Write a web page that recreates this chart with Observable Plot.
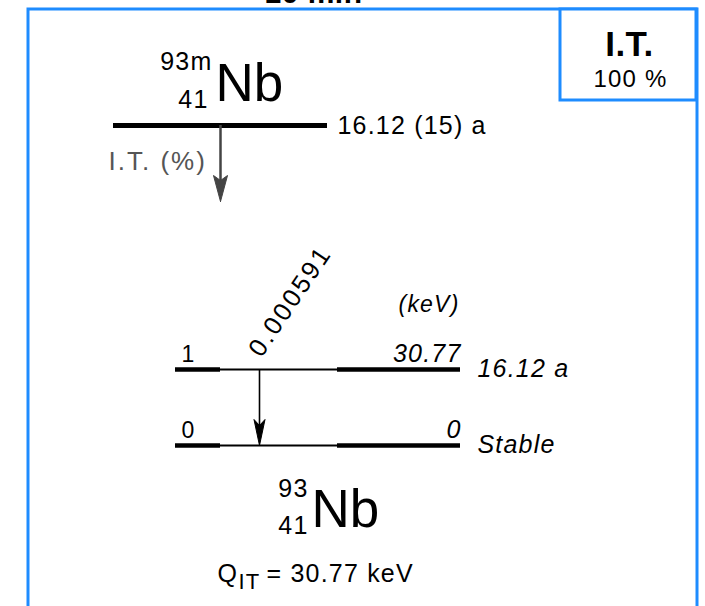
<!DOCTYPE html>
<html>
<head>
<meta charset="utf-8">
<script src="https://cdn.jsdelivr.net/npm/d3@7"></script>
<script src="https://cdn.jsdelivr.net/npm/@observablehq/plot@0.6"></script>
<style>
  html, body { margin: 0; padding: 0; background: #fff; }
  #chart svg { display: block; }
  #chart g[font-size="53"] { letter-spacing: 0; }
  #chart g[font-weight="bold"] { letter-spacing: 0.5px; }
  #chart g[fill="#555"] { letter-spacing: 2px; }
  #chart g[font-size="25.5"] { letter-spacing: 2.6px; }
</style>
</head>
<body>
<div id="chart"></div>
<script>
// ---- data ----
const headerText = ["10 min"];
const parentNuclide = ["93m", "41", "Nb"];      // A, Z, symbol
const parentHalfLife = ["16.12 (15) a"];
const decayModes = ["I.T."];
const decayPercents = ["100 %"];
const decayModeLabels = ["I.T. (%)"];
const levelIndex = [1, 0];
const levelEnergy = [30.77, 0];                  // keV
const levelEnergyLabel = ["30.77", "0"];
const levelHalfLife = ["16.12 a", "Stable"];
const gammaFrom = [1];
const gammaTo = [0];
const gammaIntensity = ["0.000591"];
const daughterNuclide = ["93", "41", "Nb"];
const qLabel = ["Q", "IT", "= 30.77 keV"];
const energyUnit = ["(keV)"];

// ---- layout ----
const W = 705, H = 606;
const blue = "#1E8CFF";
const font = "'Liberation Sans', Arial, Helvetica, sans-serif";
const eY = d3.scaleLinear().domain([0, 30.77]).range([445, 369]); // energy -> px
const lv = { x1: 175, xa: 220, xb: 337, x2: 460 };

const levels = levelIndex.map((idx, i) => ({
  idx, e: levelEnergy[i], eLabel: levelEnergyLabel[i], hl: levelHalfLife[i], y: eY(levelEnergy[i])
}));
const byIdx = Object.fromEntries(levels.map(d => [d.idx, d]));
const gammas = gammaFrom.map((f, i) => ({
  x: 259, y1: byIdx[f].y, y2: byIdx[gammaTo[i]].y, label: gammaIntensity[i]
}));
// filled arrowheads (polygons) derived from the transition ends
const heads = [];
gammas.forEach((g, i) => {
  const tip = g.y2, base = g.y2 - 26, hw = 5.5;
  [[g.x, tip], [g.x - hw, base], [g.x, base + 6], [g.x + hw, base], [g.x, tip]]
    .forEach(([x, y]) => heads.push({ k: "g" + i, x, y }));
});
const parentLine = { x1: 113, x2: 327, y: 125 };
const pArrow = { x: 220, y1: parentLine.y, y2: 201 };
decayModes.forEach((m, i) => {
  const tip = pArrow.y2, base = tip - 26, hw = 7;
  [[pArrow.x, tip], [pArrow.x - hw, base], [pArrow.x, base + 5], [pArrow.x + hw, base], [pArrow.x, tip]]
    .forEach(([x, y]) => heads.push({ k: "p" + i, x, y, parent: true }));
});

const c = v => () => v;
const T = { lineAnchor: "bottom", fill: "#000" };

const chart = Plot.plot({
  width: W, height: H, margin: 0,
  x: { domain: [0, W], range: [0, W], axis: null },
  y: { domain: [0, H], range: [0, H], axis: null },
  style: { fontFamily: font, background: "#fff", overflow: "hidden", letterSpacing: "1.2px" },
  marks: [
    // header (cut off at top edge, as in the reference)
    Plot.text(headerText, { ...T, x: c(313), y: c(2), text: d => d, fontSize: 30, fontWeight: "bold" }),
    // outer frame and decay-mode box
    Plot.rect([0], { x1: c(28), x2: c(697), y1: c(9), y2: c(700), fill: "none", stroke: blue, strokeWidth: 3 }),
    Plot.rect(decayModes, { x1: c(560), x2: c(696), y1: c(9), y2: c(100), fill: "#fff", stroke: blue, strokeWidth: 3 }),
    Plot.text(decayModes, { ...T, x: c(629), y: c(55), text: d => d, fontSize: 35, fontWeight: "bold", textAnchor: "middle" }),
    Plot.text(decayPercents, { ...T, x: c(630), y: c(86), text: d => d, fontSize: 24, textAnchor: "middle" }),

    // parent nuclide
    Plot.text([parentNuclide[0]], { ...T, x: c(212), y: c(69), text: d => d, fontSize: 25, textAnchor: "end" }),
    Plot.text([parentNuclide[1]], { ...T, x: c(208), y: c(107), text: d => d, fontSize: 25, textAnchor: "end" }),
    Plot.text([parentNuclide[2]], { ...T, x: c(215), y: c(100), text: d => d, fontSize: 53, textAnchor: "start" }),
    Plot.ruleY([parentLine], { x1: "x1", x2: "x2", y: "y", stroke: "#000", strokeWidth: 5 }),
    Plot.text(parentHalfLife, { ...T, x: c(337), y: c(133), text: d => d, fontSize: 25, textAnchor: "start" }),
    Plot.ruleX([pArrow], { x: "x", y1: "y1", y2: d => d.y2 - 10, stroke: "#444", strokeWidth: 2.5 }),
    Plot.text(decayModeLabels, { ...T, x: c(108), y: c(169), text: d => d, fontSize: 26, textAnchor: "start", fill: "#555" }),

    // levels
    Plot.ruleY(levels, { x1: c(lv.x1), x2: c(lv.x2), y: "y", stroke: "#000", strokeWidth: 2 }),
    Plot.ruleY(levels, { x1: c(lv.x1), x2: c(lv.xa), y: "y", stroke: "#000", strokeWidth: 4.5 }),
    Plot.ruleY(levels, { x1: c(lv.xb), x2: c(lv.x2), y: "y", stroke: "#000", strokeWidth: 4.5 }),
    Plot.text(levels, { ...T, x: c(181), y: d => d.y - 8, text: d => String(d.idx), fontSize: 23, textAnchor: "start" }),
    Plot.text(levels, { ...T, x: c(461), y: d => d.y - 8, text: "eLabel", fontSize: 25, fontStyle: "italic", textAnchor: "end" }),
    Plot.text(levels, { ...T, x: c(477), y: d => d.y + 7, text: "hl", fontSize: 25, fontStyle: "italic", textAnchor: "start" }),
    Plot.text(energyUnit, { ...T, x: c(459), y: c(311), text: d => d, fontSize: 23, fontStyle: "italic", textAnchor: "end" }),

    // gamma transitions
    Plot.ruleX(gammas, { x: "x", y1: "y1", y2: d => d.y2 - 12, stroke: "#000", strokeWidth: 1.6 }),
    Plot.line(heads, { x: "x", y: "y", z: "k", fill: d => d.parent ? "#444" : "#000", stroke: d => d.parent ? "#444" : "#000", strokeWidth: 1 }),
    Plot.text(gammas, { ...T, x: d => d.x + 2, y: d => d.y1 - 11, text: "label", fontSize: 25.5, rotate: -56, textAnchor: "start" }),

    // daughter nuclide
    Plot.text([daughterNuclide[0]], { ...T, x: c(308), y: c(496), text: d => d, fontSize: 25, textAnchor: "end" }),
    Plot.text([daughterNuclide[1]], { ...T, x: c(308), y: c(533), text: d => d, fontSize: 25, textAnchor: "end" }),
    Plot.text([daughterNuclide[2]], { ...T, x: c(311), y: c(526), text: d => d, fontSize: 53, textAnchor: "start" }),

    // Q value
    Plot.text([qLabel[0]], { ...T, x: c(217), y: c(581), text: d => d, fontSize: 25, textAnchor: "start" }),
    Plot.text([qLabel[1]], { ...T, x: c(238), y: c(588), text: d => d, fontSize: 22, textAnchor: "start" }),
    Plot.text([qLabel[2]], { ...T, x: c(266), y: c(581), text: d => d, fontSize: 25, textAnchor: "start" })
  ]
});
document.getElementById("chart").appendChild(chart);
</script>
</body>
</html>
